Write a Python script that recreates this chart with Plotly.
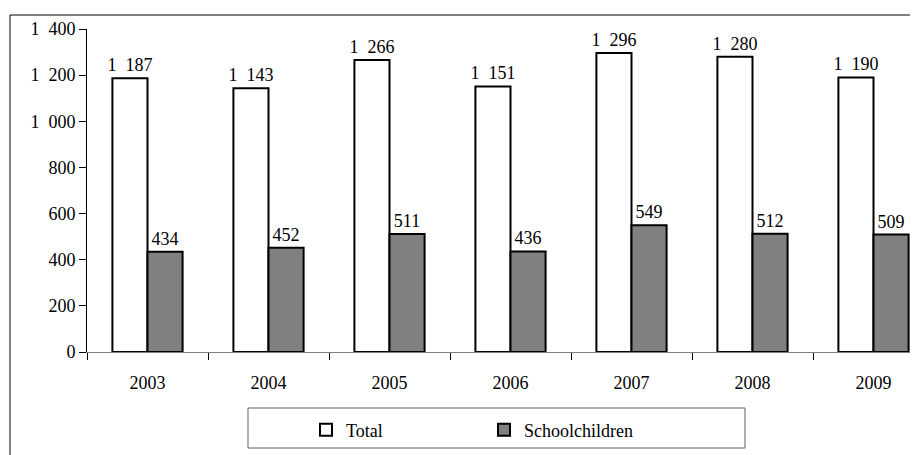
import plotly.graph_objects as go

years = ["2003", "2004", "2005", "2006", "2007", "2008", "2009"]
total = [1187, 1143, 1266, 1151, 1296, 1280, 1190]
school = [434, 452, 511, 436, 549, 512, 509]
y_ticks = [0, 200, 400, 600, 800, 1000, 1200, 1400]

SEP = "\u2002"
def fmt(v):
    return f"{v:,}".replace(",", SEP)

# figure is drawn inside an 8px page margin
W, H = 910, 447
L, R, T, B = 79, 0, 21, 103
FONT = "Times New Roman, Liberation Serif, serif"
FS = 18
CAT_PX = 121.0

pw = W - L - R
ph = H - T - B

fig = go.Figure()
fig.add_trace(go.Bar(
    x=years, y=total, name="Total",
    marker=dict(color="white", line=dict(color="black", width=2)),
    text=[fmt(v) for v in total], textposition="outside", constraintext="none",
    textfont=dict(family=FONT, size=FS, color="black"),
    cliponaxis=False,
))
fig.add_trace(go.Bar(
    x=years, y=school, name="Schoolchildren",
    marker=dict(color="#808080", line=dict(color="black", width=2)),
    text=[fmt(v) for v in school], textposition="outside", constraintext="none",
    textfont=dict(family=FONT, size=FS, color="black"),
    cliponaxis=False,
))

# outer frame (cropped on right/bottom)
fig.add_shape(type="rect", xref="paper", yref="paper",
              x0=(2 - L) / pw, x1=1.2, y0=-0.6, y1=1 + (T - 7) / ph,
              line=dict(color="black", width=1), fillcolor="rgba(0,0,0,0)", layer="below")
# legend frame
fig.add_shape(type="rect", xref="paper", yref="paper",
              x0=(240 - L) / pw, x1=(737 - L) / pw,
              y0=-(440 - (H - B)) / ph, y1=-(400 - (H - B)) / ph,
              line=dict(color="#606060", width=1), fillcolor="white", layer="below")

fig.update_layout(
    width=W, height=H,
    margin=dict(l=L, r=R, t=T, b=B, autoexpand=False),
    paper_bgcolor="white", plot_bgcolor="white",
    font=dict(family=FONT, size=FS, color="black"),
    barmode="group", bargap=0.42, bargroupgap=0,
    showlegend=True,
    legend=dict(orientation="h", xref="container", yref="container",
                x=298 / W, xanchor="left",
                y=(H - 422) / H, yanchor="middle",
                bgcolor="rgba(0,0,0,0)", borderwidth=0,
                font=dict(family=FONT, size=FS, color="black"),
                entrywidth=133, itemsizing="constant"),
    xaxis=dict(type="category", range=[-0.5, -0.5 + pw / CAT_PX], automargin=False,
               showline=True, linecolor="#808080", linewidth=1,
               ticks="outside", tickson="boundaries", ticklen=7, tickcolor="black",
               ticklabelstandoff=14, showgrid=False, zeroline=False,
               tickfont=dict(family=FONT, size=FS, color="black")),
    yaxis=dict(range=[0, 1400], tickvals=y_ticks, ticktext=[fmt(v) for v in y_ticks],
               automargin=False,
               showline=True, linecolor="black", linewidth=1,
               ticks="outside", ticklen=7, tickcolor="black",
               showgrid=False, zeroline=False,
               tickfont=dict(family=FONT, size=FS, color="black")),
)

fig.write_html("out.html")
